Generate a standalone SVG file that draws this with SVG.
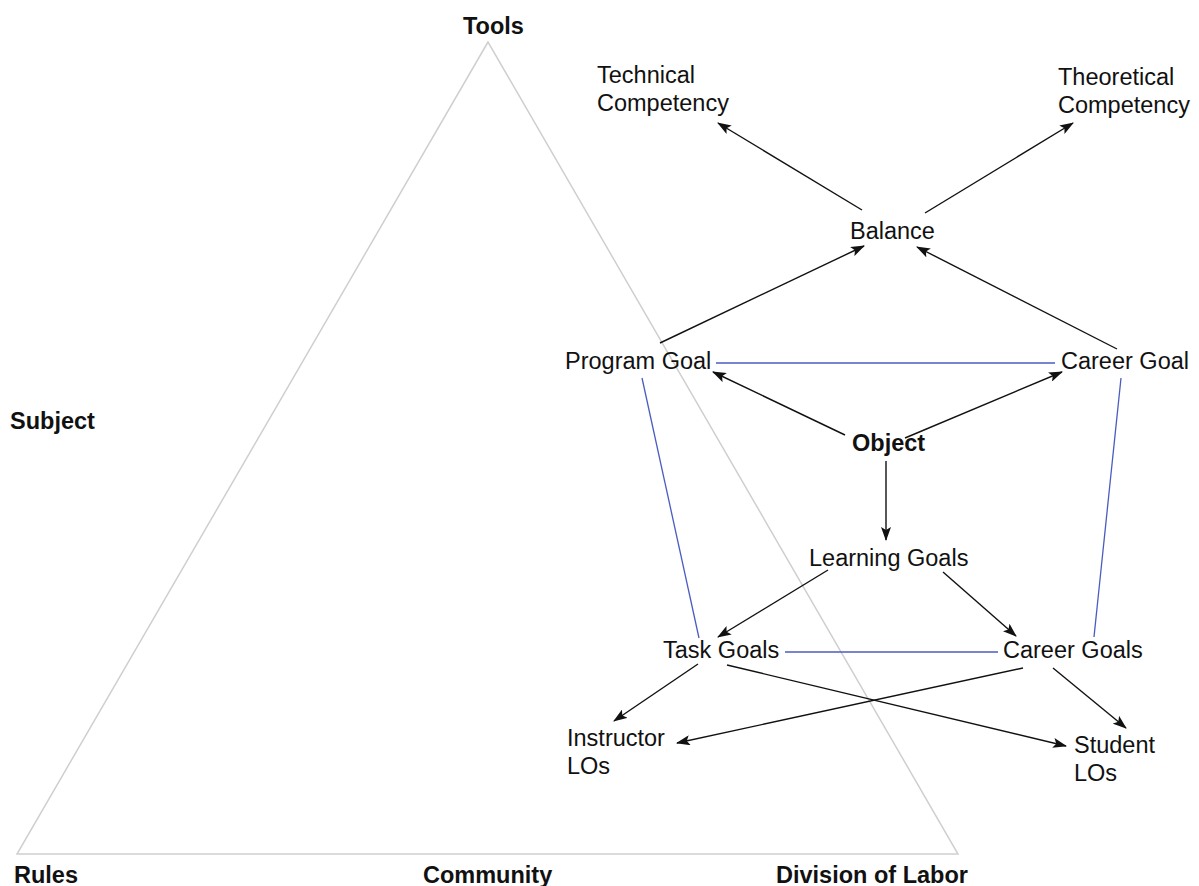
<svg xmlns="http://www.w3.org/2000/svg" width="1199" height="886" viewBox="0 0 1199 886">
  <style>
    .lbl { font-family: "Liberation Sans", Arial, Helvetica, sans-serif; font-size: 23.5px; fill: #111; }
    .bold { font-weight: bold; font-size: 23.5px; }
    .arrow { stroke: #111; stroke-width: 1.4; fill: none; marker-end: url(#head); }
    .link { stroke: #4a5cc0; stroke-width: 1.3; fill: none; }
    .frame { stroke: #cfcfcf; stroke-width: 1.5; fill: none; }
  </style>
  <defs>
    <marker id="head" viewBox="0 0 14 10" refX="13" refY="5" markerWidth="14" markerHeight="10" markerUnits="userSpaceOnUse" orient="auto">
      <path d="M0,0 L14,5 L0,10 L3,5 Z" fill="#111"/>
    </marker>
  </defs>
  <rect width="1199" height="886" fill="#fff"/>

  <!-- activity system triangle -->
  <g id="triangle">
    <polygon class="frame" points="488,42 17,854 958,854"/>
  </g>

  <!-- corner and side labels -->
  <g id="tools"><text class="lbl bold" x="463" y="34">Tools</text></g>
  <g id="subject"><text class="lbl bold" x="10" y="429">Subject</text></g>
  <g id="rules"><text class="lbl bold" x="14" y="883">Rules</text></g>
  <g id="community"><text class="lbl bold" x="423" y="883">Community</text></g>
  <g id="division"><text class="lbl bold" x="776" y="883">Division of Labor</text></g>

  <!-- connectors -->
  <g id="connectors">
    <line class="link" x1="716" y1="363" x2="1055" y2="363"/>
    <line class="link" x1="642" y1="378" x2="699" y2="638"/>
    <line class="link" x1="1121" y1="378" x2="1094" y2="637"/>
    <line class="link" x1="785" y1="652" x2="998" y2="652"/>

    <line class="arrow" x1="862" y1="210" x2="718" y2="123"/>
    <line class="arrow" x1="925" y1="213" x2="1073" y2="123"/>
    <line class="arrow" x1="660" y1="343" x2="864" y2="246"/>
    <line class="arrow" x1="1117" y1="349" x2="917" y2="247"/>
    <line class="arrow" x1="845" y1="435" x2="713" y2="372"/>
    <line class="arrow" x1="905" y1="438" x2="1062" y2="372"/>
    <line class="arrow" x1="886" y1="461" x2="886" y2="540"/>
    <line class="arrow" x1="828" y1="570" x2="718" y2="637"/>
    <line class="arrow" x1="943" y1="572" x2="1016" y2="636"/>
    <line class="arrow" x1="698" y1="664" x2="614" y2="721"/>
    <line class="arrow" x1="1023" y1="668" x2="677" y2="743"/>
    <line class="arrow" x1="727" y1="665" x2="1066" y2="746"/>
    <line class="arrow" x1="1053" y1="668" x2="1126" y2="728"/>
  </g>

  <!-- nodes -->
  <g id="technical">
    <text class="lbl" x="597" y="83">Technical</text>
    <text class="lbl" x="597" y="111">Competency</text>
  </g>
  <g id="theoretical">
    <text class="lbl" x="1058" y="85">Theoretical</text>
    <text class="lbl" x="1058" y="113">Competency</text>
  </g>
  <g id="balance"><text class="lbl" x="850" y="239">Balance</text></g>
  <g id="program-goal"><text class="lbl" x="565" y="369">Program Goal</text></g>
  <g id="career-goal"><text class="lbl" x="1061" y="369">Career Goal</text></g>
  <g id="object"><text class="lbl bold" x="852" y="451">Object</text></g>
  <g id="learning-goals"><text class="lbl" x="809" y="566">Learning Goals</text></g>
  <g id="task-goals"><text class="lbl" x="663" y="658">Task Goals</text></g>
  <g id="career-goals"><text class="lbl" x="1003" y="658">Career Goals</text></g>
  <g id="instructor-los">
    <text class="lbl" x="567" y="746">Instructor</text>
    <text class="lbl" x="567" y="774">LOs</text>
  </g>
  <g id="student-los">
    <text class="lbl" x="1074" y="753">Student</text>
    <text class="lbl" x="1074" y="781">LOs</text>
  </g>
</svg>
